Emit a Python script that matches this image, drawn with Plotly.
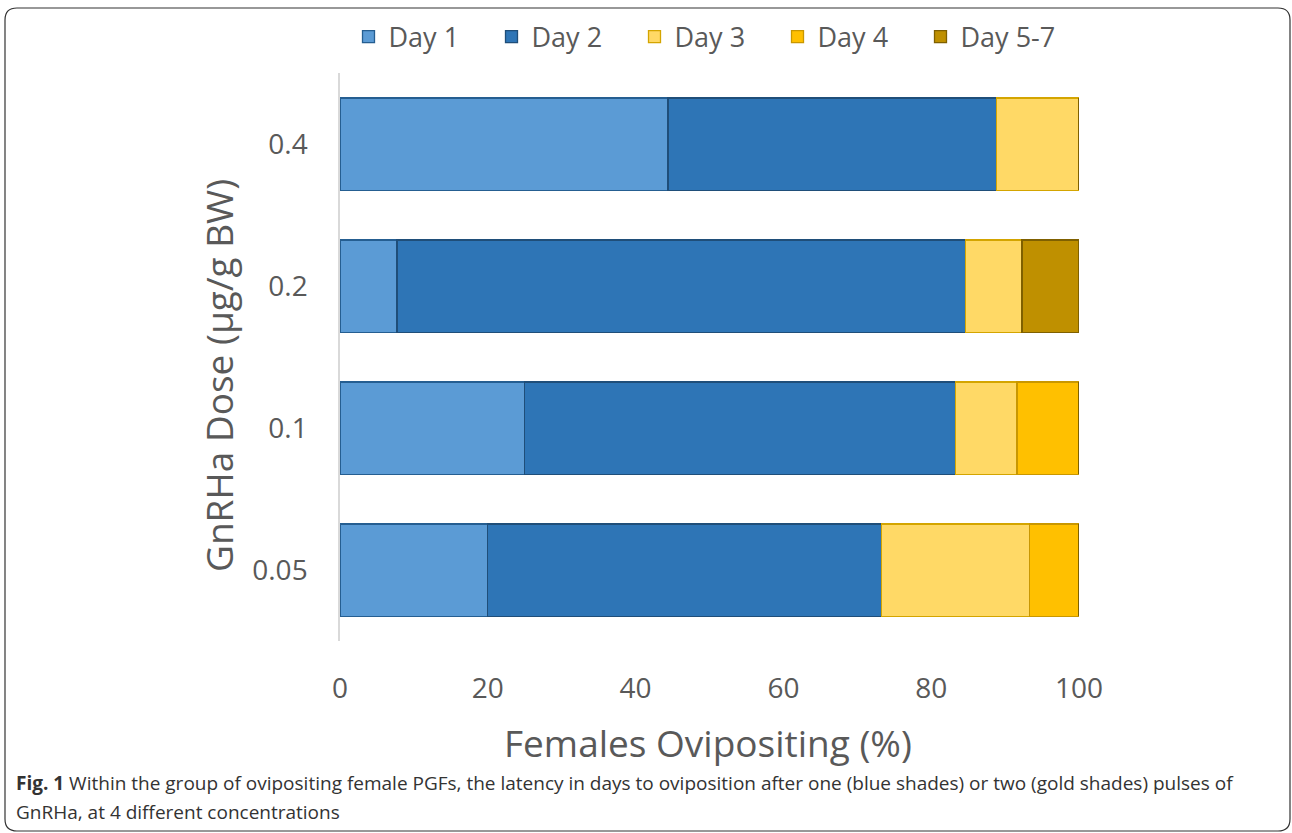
import plotly.graph_objects as go

# ---- data ----
doses = ["0.05", "0.1", "0.2", "0.4"]
series_names = ["Day 1", "Day 2", "Day 3", "Day 4", "Day 5-7"]
day1 = [20.0, 25.0, 7.7, 44.4]
day2 = [53.3, 58.3, 76.9, 44.4]
day3 = [20.0, 8.3, 7.7, 11.2]
day4 = [6.7, 8.4, 0.0, 0.0]
day57 = [0.0, 0.0, 7.7, 0.0]
x_ticks = [0, 20, 40, 60, 80, 100]
caption_line1 = ("<b>Fig. 1</b> Within the group of ovipositing female PGFs, the latency in days to "
                 "oviposition after one (blue shades) or two (gold shades) pulses of")
caption_line2 = "GnRHa, at 4 different concentrations"

fills = ["#5B9BD5", "#2E75B6", "#FFD966", "#FFC000", "#BF9000"]
edges = ["#255E91", "#1F4E79", "#D4A500", "#C99700", "#7F6000"]

W, H = 1292, 833
L, R, T, B = 340, 1079, 73, 641

def px(x):
    return (x - L) / (R - L)

def py(y):
    return (B - y) / (B - T)

fig = go.Figure()
for name, vals, fc, ec in zip(series_names, [day1, day2, day3, day4, day57], fills, edges):
    fig.add_trace(go.Bar(
        y=doses, x=vals, name=name, orientation="h",
        marker=dict(color=fc, line=dict(color=ec, width=1.3)),
    ))

font_family = "Open Sans"
grey = "#595959"

fig.update_layout(
    width=W, height=H,
    barmode="stack", bargap=0.35,
    margin=dict(l=L, r=W - R, t=T, b=H - B, autoexpand=False),
    paper_bgcolor="white", plot_bgcolor="white",
    font=dict(family=font_family, color=grey, size=28),
    showlegend=True,
    legend=dict(orientation="h", x=px(706), xanchor="center", y=py(37), yanchor="middle",
                xref="paper", yref="paper", bgcolor="rgba(0,0,0,0)",
                font=dict(size=27, color=grey), traceorder="normal",
                itemwidth=30, entrywidthmode="pixels", entrywidth=98),
    xaxis=dict(range=[0, 100], tickvals=x_ticks, showgrid=False, zeroline=False,
               showline=False, ticks="", ticklabelstandoff=28,
               tickfont=dict(size=28, color=grey), fixedrange=True),
    yaxis=dict(categoryorder="array", categoryarray=doses, showgrid=False, zeroline=False,
               showline=True, linecolor="#D9D9D9", linewidth=1.5, ticks="",
               ticklabelstandoff=25, tickfont=dict(size=28, color=grey),
               range=[-0.5, 3.5], fixedrange=True),
)

# axis titles
fig.add_annotation(text="Females Ovipositing (%)", x=px(708), y=py(742), xref="paper", yref="paper",
                   showarrow=False, font=dict(size=37, color=grey), xanchor="center", yanchor="middle")
fig.add_annotation(text="GnRHa Dose (µg/g BW)", x=px(218), y=py(376), xref="paper", yref="paper",
                   showarrow=False, textangle=-90, font=dict(size=37, color=grey),
                   xanchor="center", yanchor="middle")

# caption
cap_color = "#333333"
fig.add_annotation(text=caption_line1, x=px(14), y=py(783), xref="paper", yref="paper",
                   showarrow=False, xanchor="left", yanchor="middle", align="left",
                   font=dict(size=19, color=cap_color))
fig.add_annotation(text=caption_line2, x=px(14), y=py(812), xref="paper", yref="paper",
                   showarrow=False, xanchor="left", yanchor="middle", align="left",
                   font=dict(size=19, color=cap_color))

# rounded frame
x0, x1, y0, y1, r = 5, 1290, 8, 831, 12
def pt(x, y):
    return f"{px(x):.5f},{py(y):.5f}"
path = (f"M {pt(x0 + r, y0)} L {pt(x1 - r, y0)} Q {pt(x1, y0)} {pt(x1, y0 + r)} "
        f"L {pt(x1, y1 - r)} Q {pt(x1, y1)} {pt(x1 - r, y1)} "
        f"L {pt(x0 + r, y1)} Q {pt(x0, y1)} {pt(x0, y1 - r)} "
        f"L {pt(x0, y0 + r)} Q {pt(x0, y0)} {pt(x0 + r, y0)} Z")
fig.add_shape(type="path", path=path, xref="paper", yref="paper",
              line=dict(color="#333333", width=1.2), fillcolor="rgba(0,0,0,0)", layer="above")

fig.write_html("out.html", config={"displayModeBar": False})
